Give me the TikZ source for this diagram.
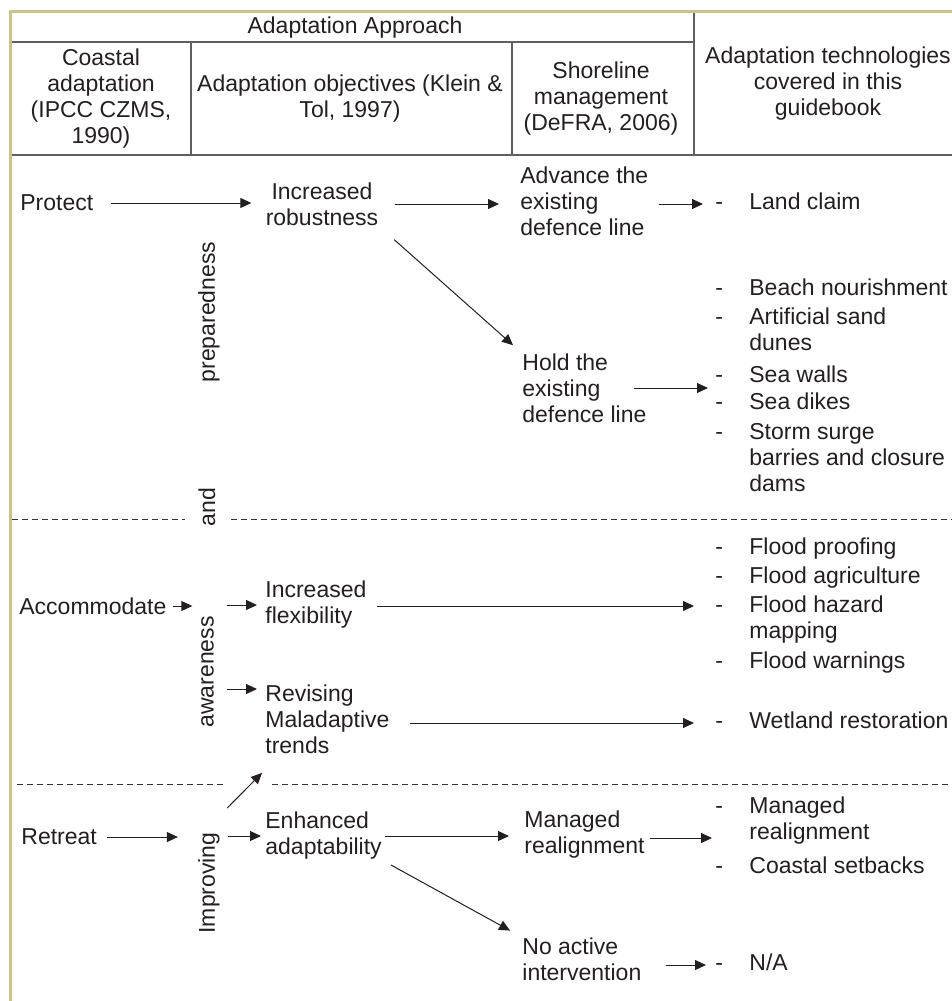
\documentclass[tikz,border=0pt]{standalone}
\usepackage{fontspec}
\setmainfont{Liberation Sans}
\usetikzlibrary{arrows.meta}

\definecolor{ink}{HTML}{231F20}
\definecolor{framecol}{HTML}{C8C48E}
\definecolor{rulecol}{HTML}{5F5F5F}
\definecolor{sepcol}{HTML}{333333}

\tikzset{
  txt/.style={
    inner sep=0pt,
    anchor=west,
    align=left
  },
  head/.style={
    inner sep=0pt,
    anchor=center,
    align=center
  },
  vert/.style={
    inner sep=0pt,
    anchor=center,
    rotate=90
  },
  items/.style={
    inner sep=0pt,
    anchor=west
  },
  link/.style={
    -{Triangle[length=5.5pt,width=5pt]},
    line width=0.5pt,
    draw=ink
  },
  rule/.style={
    line width=0.9pt,
    draw=rulecol
  },
  rowsep/.style={
    line width=0.5pt,
    draw=sepcol,
    dash pattern=on 3.2pt off 1.8pt
  },
}

\begin{document}
\begin{tikzpicture}[x=0.5pt, y=-0.5pt, color=ink]
  \fontsize{11.5}{13}\selectfont
  \useasboundingbox (0,0) rectangle (952,1001);
  % table frame and header
  \draw[framecol, line width=1.5pt] (10.5,1001) -- (10.5,11.5) -- (952,11.5);
  \draw[rule] (12,42) -- (694,42) (694,13) -- (694,155) (191,42) -- (191,155)
    (512,42) -- (512,155) (12,155) -- (952,155);
  \node[head] (appr) at (355,28) {Adaptation Approach};
  \node[head] (hcoast) at (101,99) {Coastal\\adaptation\\(IPCC CZMS,\\1990)};
  \node[head] (hobj) at (350,99) {Adaptation objectives (Klein \&\\Tol, 1997)};
  \node[head] (hshore) at (601,99) {Shoreline\\management\\(DeFRA, 2006)};
  \node[head] (htech) at (828,84) {Adaptation technologies\\covered in this\\guidebook};
  % row separators
  \draw[rowsep] (12,519) -- (185,519) (231,519) -- (952,519);
  \draw[rowsep] (17,784) -- (225,784) (272,784) -- (952,784);
  % approaches
  \node[txt] (prot) at (20,203) {Protect};
  \node[txt] (acc) at (19,606) {Accommodate};
  \node[txt] (retr) at (21,837) {Retreat};
  \node[vert] (prep) at (209,312) {preparedness};
  \node[vert] (andw) at (207,507) {and};
  \node[vert] (aware) at (207.5,672) {awareness};
  \node[vert] (impr) at (209,883) {Improving};
  % objectives and shoreline management
  \node[head] (robust) at (322,204) {Increased\\robustness};
  \node[txt] (adv) at (520,201) {Advance the\\existing\\defence line};
  \node[txt] (hold) at (522,388) {Hold the\\existing\\defence line};
  \node[txt] (flex) at (265,605) {Increased\\flexibility};
  \node[txt] (rev) at (265,719) {Revising\\Maladaptive\\trends};
  \node[txt] (enh) at (265,836) {Enhanced\\adaptability};
  \node[txt] (mgd) at (524,835) {Managed\\realignment};
  \node[txt] (noact) at (522,959) {No active\\intervention};
  % technologies
  \node[items] (claim) at (715,204) {\begin{tabular}{@{}p{17pt}@{}l@{}}
    - & Land claim
  \end{tabular}};
  \node[items] (holdl) at (715,388) {\begin{tabular}{@{}p{17pt}@{}l@{}}
    - & Beach nourishment\\[1.5pt]
    - & Artificial sand\\
      & dunes\\[3pt]
    - & Sea walls\\[0.5pt]
    - & Sea dikes\\[2pt]
    - & Storm surge\\
      & barries and closure\\
      & dams
  \end{tabular}};
  \node[items] (flexl) at (715,606) {\begin{tabular}{@{}p{17pt}@{}l@{}}
    - & Flood proofing\\[1.5pt]
    - & Flood agriculture\\[1.5pt]
    - & Flood hazard\\
      & mapping\\[2pt]
    - & Flood warnings
  \end{tabular}};
  \node[items] (wet) at (715,723) {\begin{tabular}{@{}p{17pt}@{}l@{}}
    - & Wetland restoration
  \end{tabular}};
  \node[items] (mgdl) at (715,838) {\begin{tabular}{@{}p{17pt}@{}l@{}}
    - & Managed\\
      & realignment\\[4pt]
    - & Coastal setbacks
  \end{tabular}};
  \node[items] (nal) at (715,965) {\begin{tabular}{@{}p{17pt}@{}l@{}}
    - & N/A
  \end{tabular}};
  % connectors
  \coordinate (revtop) at ([yshift=15pt]rev.west);
  \draw[link, shorten <=8.5pt, shorten >=7pt] (prot.east) -- (prot.east -| robust.west);
  \draw[link, shorten <=8pt, shorten >=10.5pt] (robust.east) -- (robust.east -| adv.west);
  \draw[link, shorten <=5pt, shorten >=6pt] (claim.west -| adv.east) -- (claim.west);
  \draw[link, shorten <=10.4pt, shorten >=6pt] (robust.south east) -- (hold.north west);
  \draw[link, shorten <=-6.5pt, shorten >=3.5pt] (holdl.west -| hold.east) -- (holdl.west);
  \draw[link, shorten <=3pt, shorten >=4.25pt] (acc.east) -- (acc.east -| aware.north);
  \draw[link, shorten <=6.25pt, shorten >=4pt] (flex.west -| aware.south) -- (flex.west);
  \draw[link, shorten <=6.25pt, shorten >=4pt] (revtop -| aware.south) -- (revtop);
  \draw[link, shorten <=5pt, shorten >=10.5pt] (flexl.west -| flex.east) -- (flexl.west);
  \draw[link, shorten <=10pt, shorten >=10.5pt] (wet.west -| rev.east) -- (wet.west);
  \draw[link, shorten <=5pt, shorten >=10pt] (retr.east) -- (retr.east -| impr.north);
  \draw[link, shorten <=4pt, shorten >=2pt] (enh.west -| impr.south) -- (enh.west);
  \draw[link] ([shift={(7,-24)}]impr.south east) -- ([shift={(-3,19)}]rev.south west);
  \draw[link, shorten <=1.5pt, shorten >=7.5pt] (enh.east) -- (enh.east -| mgd.west);
  \draw[link, shorten <=2.5pt, shorten >=1.5pt] (mgdl.west -| mgd.east) -- (mgdl.west);
  \draw[link, shorten <=5pt, shorten >=6.8pt] (enh.south east) -- (noact.north west);
  \draw[link, shorten <=12pt, shorten >=4.5pt] (nal.west -| noact.east) -- (nal.west);
\end{tikzpicture}
\end{document}
